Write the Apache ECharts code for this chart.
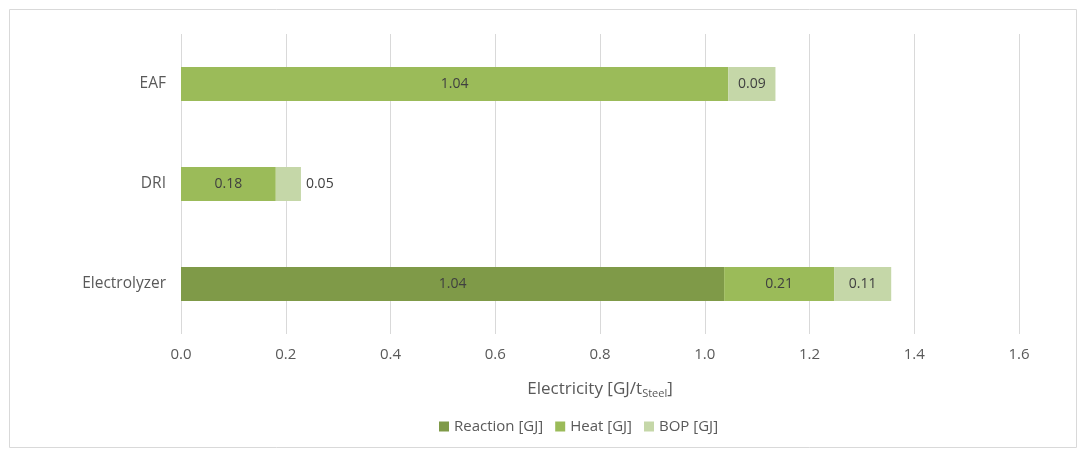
<!DOCTYPE html>
<html>
<head>
<meta charset="utf-8">
<script src="https://cdn.jsdelivr.net/npm/echarts@6/dist/echarts.min.js"></script>
<style>
  html, body { margin: 0; padding: 0; background: #fff; }
  #chart { width: 1085px; height: 457px; }
</style>
</head>
<body>
<div id="chart"></div>
<script>
// categories from top to bottom
var categories = ['EAF', 'DRI', 'Electrolyzer'];
var seriesNames = ['Reaction [GJ]', 'Heat [GJ]', 'BOP [GJ]'];
var reactionData = [null, null, 1.037];
var heatData = [1.045, 0.181, 0.21];
var bopData = [0.09, 0.048, 0.109];
var xTicks = [0, 0.2, 0.4, 0.6, 0.8, 1.0, 1.2, 1.4, 1.6];

var colors = ['#7f9a48', '#9bbb59', '#c5d7a8'];
var fontFamily = '"Open Sans", sans-serif';

function fmt(p) {
    return p.value == null ? '' : Number(p.value).toFixed(2);
}

function makeSeries(name, data, color) {
    return {
        name: name,
        type: 'bar',
        stack: 'total',
        barWidth: 34,
        itemStyle: { color: color },
        label: {
            show: true,
            position: 'inside',
            color: '#404040',
            fontSize: 14,
            fontFamily: fontFamily,
            formatter: fmt
        },
        data: data
    };
}

var chart = echarts.init(document.getElementById('chart'));

var bopSeries = makeSeries(seriesNames[2], bopData.map(function (v, i) {
    // DRI BOP segment is too thin, label sits outside to the right
    if (categories[i] == 'DRI') {
        return { value: v, label: { position: 'right', distance: 5 } };
    }
    return v;
}), colors[2]);

var option = {
    animation: false,
    textStyle: { fontFamily: fontFamily },
    graphic: [{
        type: 'rect',
        shape: { x: 9.5, y: 9.5, width: 1067, height: 438 },
        style: { fill: 'none', stroke: '#d9d9d9', lineWidth: 1 },
        silent: true
    }],
    grid: {
        left: 181,
        right: 66,
        top: 34,
        bottom: 123
    },
    legend: {
        data: seriesNames,
        left: 434,
        top: 414,
        itemWidth: 10,
        itemHeight: 10,
        itemGap: 12,
        icon: 'rect',
        textStyle: { color: '#595959', fontSize: 15, fontFamily: fontFamily }
    },
    xAxis: {
        type: 'value',
        min: xTicks[0],
        max: xTicks[xTicks.length - 1],
        interval: 0.2,
        axisLine: { show: false },
        axisTick: { show: false },
        splitLine: { lineStyle: { color: '#d9d9d9' } },
        axisLabel: {
            color: '#595959',
            fontSize: 15,
            margin: 13,
            formatter: function (v) { return v.toFixed(1); }
        },
        name: '{main|Electricity [GJ/t}{sub|Steel}{main|]}',
        nameLocation: 'middle',
        nameGap: 45,
        nameTextStyle: {
            rich: {
                main: { color: '#595959', fontSize: 17, fontFamily: fontFamily },
                sub: { color: '#595959', fontSize: 11, fontFamily: fontFamily, padding: [9, 0, 0, 0] }
            }
        }
    },
    yAxis: {
        type: 'category',
        data: categories,
        inverse: true,
        axisLine: { show: false },
        axisTick: { show: false },
        axisLabel: { color: '#595959', fontSize: 15.5, margin: 15 }
    },
    series: [
        makeSeries(seriesNames[0], reactionData, colors[0]),
        makeSeries(seriesNames[1], heatData, colors[1]),
        bopSeries
    ]
};

chart.setOption(option);
</script>
</body>
</html>
